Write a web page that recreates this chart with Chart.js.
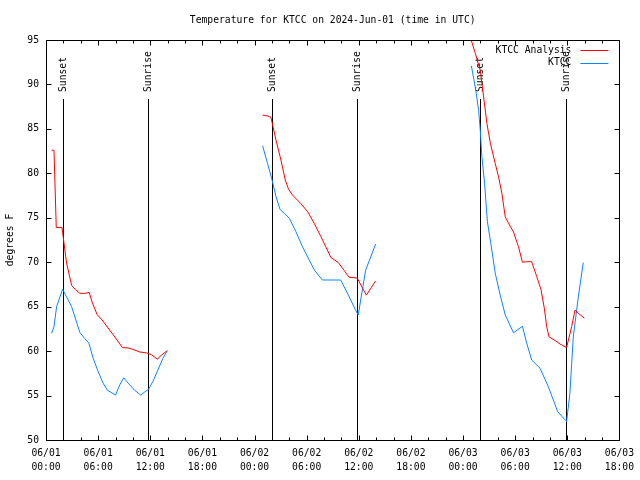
<!DOCTYPE html>
<html><head><meta charset="utf-8">
<script src="https://cdn.jsdelivr.net/npm/chart.js@4"></script>
<style>html,body{margin:0;padding:0;background:#fff}#wrap{width:640px;height:480px;position:relative}</style>
</head><body><div id="wrap"><canvas id="c" width="640" height="480" style="width:640px;height:480px"></canvas></div>
<script>
// Hours since 2024-06-01 00:00 UTC; null separates segments
const anaHours = [0.65,0.92,1.18,1.84,2.37,2.95,3.4,3.9,4.47,4.97,5.35,5.89,6.46,7.15,7.92,8.8,9.45,10.0,10.78,11.55,12.13,12.81,13.35,13.96,
  null,
  24.93,25.5,25.89,26.47,27.04,27.54,27.92,28.37,29.33,30.1,30.86,31.63,32.2,32.78,33.65,34.3,34.88,35.45,35.83,36.34,36.87,37.94,
  null,
  48.75,49.41,49.98,50.37,50.75,51.14,51.71,52.09,52.47,52.86,53.23,53.81,54.38,54.84,55.33,55.9,56.48,56.98,57.36,57.63,57.9,58.59,59.16,59.92,60.5,60.89,61.35,61.96];
const anaTemps = [82.6,82.6,73.9,73.9,69.9,67.4,66.9,66.5,66.5,66.6,65.4,64.1,63.5,62.6,61.6,60.4,60.35,60.2,59.9,59.8,59.6,59.1,59.6,60.05,
  null,
  86.56,86.45,86.3,83.75,81.5,79.25,78.2,77.56,76.6,75.7,74.4,72.9,71.75,70.55,69.95,69.1,68.3,68.26,68.2,67.25,66.3,67.9,
  null,
  95.6,93.5,91.6,88.6,85.6,83.4,81.1,79.6,77.75,75.1,74.4,73.4,71.75,70.0,70.06,70.06,68.4,66.9,64.8,62.75,61.6,61.2,60.8,60.4,62.75,64.6,64.2,63.7];
const obsHours = [0.65,0.92,1.22,1.91,2.37,2.95,3.44,3.9,4.47,4.93,5.43,6.0,6.57,7.07,8.0,8.49,8.95,9.45,10.2,10.9,11.36,11.8,12.31,12.89,13.46,13.96,
  null,
  24.93,25.5,25.97,26.47,26.93,27.42,28.0,28.76,29.52,30.29,30.94,31.82,33.92,34.8,35.64,35.95,36.22,36.79,37.94,
  null,
  48.96,49.22,49.49,49.79,49.98,50.17,50.48,50.8,51.2,51.71,52.28,52.86,53.81,54.84,55.33,55.9,56.87,57.82,58.89,59.81,59.92,60.3,60.69,61.27,61.84];
const obsTemps = [62.0,62.75,65.0,66.95,66.1,65.0,63.5,62.1,61.4,60.9,59.2,57.7,56.4,55.6,55.06,56.2,57.0,56.4,55.6,55.06,55.4,55.7,56.6,57.9,59.2,60.05,
  null,
  83.1,81.1,79.45,77.4,75.95,75.5,74.95,73.45,71.75,70.25,69.05,68.0,68.0,66.3,64.6,64.06,65.75,69.1,72.05,
  null,
  92.1,90.7,89.2,87.1,84.9,81.9,78.9,74.6,72.1,68.75,66.3,64.06,62.06,62.8,60.9,59.0,58.06,56.0,53.2,52.2,52.06,55.25,61.6,66.1,69.95];
const sunHours = [1.99, 11.77, 25.98, 35.75, 49.95, 59.83];
const sunLabels = ["Sunset","Sunrise","Sunset","Sunrise","Sunset","Sunrise"];
const xTickLabels = [["06/01","00:00"],["06/01","06:00"],["06/01","12:00"],["06/01","18:00"],
  ["06/02","00:00"],["06/02","06:00"],["06/02","12:00"],["06/02","18:00"],
  ["06/03","00:00"],["06/03","06:00"],["06/03","12:00"],["06/03","18:00"]];
const seriesNames = ["KTCC Analysis","KTCC"];
const seriesColors = ["#ff0000","#0a84ff"];
const titleText = "Temperature for KTCC on 2024-Jun-01 (time in UTC)";
const yTitle = "degrees F";

const FONT = "'DejaVu Sans Mono','Liberation Mono',monospace";
const FS = 9.7;

function toPoints(hs, vs) {
  const out = [];
  for (let i = 0; i < hs.length; i++) {
    if (hs[i] === null) out.push({x: hs[i-1], y: null});
    else out.push({x: hs[i], y: vs[i]});
  }
  return out;
}

const overlay = {
  id: 'overlay',
  beforeDatasetsDraw(chart) {
    const {ctx, chartArea: a, scales: {x}} = chart;
    ctx.save();
    ctx.strokeStyle = '#000'; ctx.lineWidth = 1;
    ctx.fillStyle = '#000';
    ctx.font = FS + 'px ' + FONT;
    sunHours.forEach((h, i) => {
      const px = Math.round(x.getPixelForValue(h)) + 0.5;
      ctx.beginPath(); ctx.moveTo(px, a.bottom); ctx.lineTo(px, a.top + 59); ctx.stroke();
      ctx.save();
      ctx.translate(px, a.top + 52);
      ctx.rotate(-Math.PI/2);
      ctx.textAlign = 'left'; ctx.textBaseline = 'middle';
      ctx.fillText(sunLabels[i], 0, 0);
      ctx.restore();
    });
    ctx.restore();
  },
  afterDatasetsDraw(chart) {
    const {ctx, chartArea: a, scales: {x, y}} = chart;
    ctx.save();
    ctx.strokeStyle = '#000'; ctx.lineWidth = 1;
    const L = Math.round(a.left) + 0.5, R = Math.round(a.right) + 0.5;
    const T = Math.round(a.top) + 0.5, B = Math.round(a.bottom) + 0.5;
    ctx.beginPath(); ctx.rect(L, T, R - L, B - T); ctx.stroke();
    ctx.beginPath();
    for (let h = x.min; h <= x.max; h += 2) {
      const px = Math.round(x.getPixelForValue(h)) + 0.5;
      const len = (h % 6 === 0) ? 5 : 3;
      ctx.moveTo(px, B); ctx.lineTo(px, B - len);
      ctx.moveTo(px, T); ctx.lineTo(px, T + len);
    }
    for (let v = y.min; v <= y.max; v += 5) {
      const py = Math.round(y.getPixelForValue(v)) + 0.5;
      ctx.moveTo(L, py); ctx.lineTo(L + 5, py);
      ctx.moveTo(R, py); ctx.lineTo(R - 5, py);
    }
    ctx.stroke();
    // title
    ctx.fillStyle = '#000';
    ctx.font = FS + 'px ' + FONT;
    ctx.textAlign = 'center'; ctx.textBaseline = 'middle';
    ctx.fillText(titleText, (a.left + a.right) / 2, 20);
    // legend
    ctx.textAlign = 'right';
    seriesNames.forEach((n, i) => {
      const ly = a.top + 10 + i * 12.5;
      ctx.fillStyle = '#000';
      ctx.fillText(n, a.right - 48, ly);
      ctx.strokeStyle = seriesColors[i];
      ctx.beginPath();
      ctx.moveTo(a.right - 39, Math.round(ly) + 0.5);
      ctx.lineTo(a.right - 11, Math.round(ly) + 0.5);
      ctx.stroke();
    });
    ctx.restore();
  }
};

new Chart(document.getElementById('c'), {
  type: 'line',
  data: {
    datasets: [
      {label: seriesNames[0], data: toPoints(anaHours, anaTemps), borderColor: seriesColors[0], borderWidth: 1, pointRadius: 0, tension: 0, spanGaps: false, fill: false},
      {label: seriesNames[1], data: toPoints(obsHours, obsTemps), borderColor: seriesColors[1], borderWidth: 1, pointRadius: 0, tension: 0, spanGaps: false, fill: false}
    ]
  },
  options: {
    responsive: false,
    animation: false,
    devicePixelRatio: 1,
    layout: {padding: {left: 0, right: 19, top: 40, bottom: 0}},
    plugins: {legend: {display: false}, title: {display: false}, tooltip: {enabled: false}},
    scales: {
      x: {
        type: 'linear', min: 0, max: 66,
        grid: {display: false, drawTicks: false}, border: {display: false},
        ticks: {stepSize: 6, padding: 6, color: '#000', maxRotation: 0, autoSkip: false,
          font: {family: FONT, size: FS, lineHeight: 1.45},
          callback: (v) => xTickLabels[Math.round(v / 6)]},
        afterFit: (s) => { s.height = 40; }
      },
      y: {
        min: 50, max: 95,
        grid: {display: false, drawTicks: false}, border: {display: false},
        ticks: {stepSize: 5, padding: 7, color: '#000', font: {family: FONT, size: FS}},
        title: {display: true, text: yTitle, color: '#000', padding: {top: 5, bottom: 0}, font: {family: FONT, size: FS, lineHeight: 1.2}},
        afterFit: (s) => { s.width = 46; }
      }
    }
  },
  plugins: [overlay]
});
</script>
</body></html>
